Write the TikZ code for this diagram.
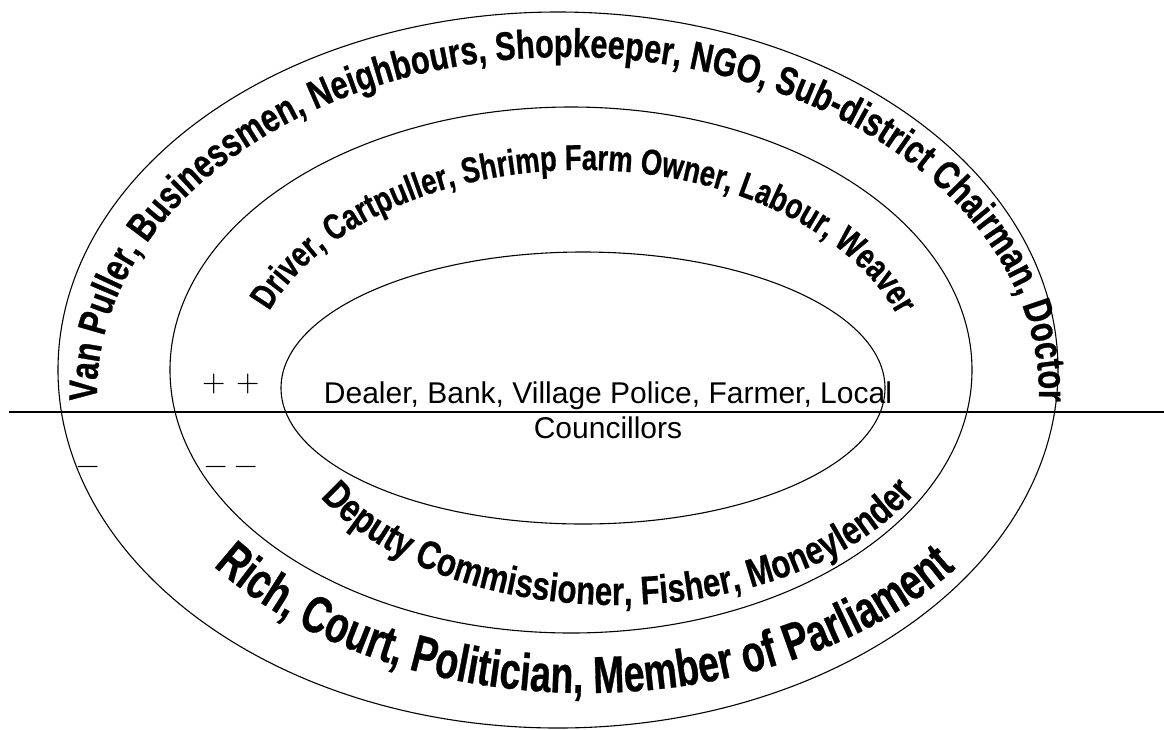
\documentclass[tikz,border=0pt]{standalone}
\usepackage{fontspec}
\setmainfont{Liberation Sans}
\usetikzlibrary{decorations.text}
\newfontfamily\wafA[FakeStretch=0.77,FakeBold=0.6]{Liberation Sans Bold}
\newfontfamily\wafB[FakeStretch=0.76,FakeBold=0.6]{Liberation Sans Bold}
\newfontfamily\wafC[FakeStretch=0.78,FakeBold=0.4]{Liberation Sans Bold}
\newfontfamily\wafD[FakeStretch=0.72,FakeBold=0.6]{Liberation Sans Bold}
\newfontfamily\signfont{Latin Modern Math}
\newcommand\txtA{\wafA\fontsize{40}{44}\selectfont}
\newcommand\txtB{\wafB\fontsize{36}{40}\selectfont}
\newcommand\txtC{\wafC\fontsize{40}{44}\selectfont}
\newcommand\txtD{\wafD\fontsize{52}{56}\selectfont}
\tikzset{
  ring/.style={draw=black, line width=1.1pt},
  divider/.style={draw=black, line width=1.1pt},
  arctext/.style={decorate, decoration={text along path, text={#1}, text align=fit to path}},
  signs/.style={inner sep=0pt, font=\signfont\fontsize{30}{30}\selectfont},
  core/.style={align=center, inner sep=0pt, font=\fontsize{30}{35}\selectfont}
}
\begin{document}
\begin{tikzpicture}[x=1pt,y=1pt]
\useasboundingbox (0,0) rectangle (1164,-729);
% ellipses
\draw[ring] (558,-370) ellipse [x radius=500, y radius=358];
\draw[ring] (571,-370) ellipse [x radius=401, y radius=263];
\draw[ring] (583,-388) ellipse [x radius=302, y radius=136];
% divider
\coordinate (dl) at (9,-412);
\coordinate (dr) at (1164,-412);
\draw[divider] (dl) -- (dr);
% curved texts
\path[arctext={|\txtA|Van Puller, Businessmen, Neighbours, Shopkeeper, NGO, Sub-district Chairman, Doctor}]
  (568,-395) ++(181:471 and 338) arc[start angle=181, end angle=-1, x radius=471, y radius=338];
\path[arctext={|\txtB|Driver, Cartpuller, Shrimp Farm Owner, Labour, Weaver}]
  (582,-390) ++(159:335 and 220) arc[start angle=159, end angle=21, x radius=335, y radius=220];
\path[arctext={|\txtC|Deputy Commissioner, Fisher, Moneylender}]
  (616,-392) ++(209.6:340 and 213) arc[start angle=209.6, end angle=330.4, x radius=340, y radius=213];
\path[arctext={|\txtD|Rich, Court, Politician, Member of Parliament}]
  (586,-375) ++(216.9:466 and 318) arc[start angle=216.9, end angle=322, x radius=466, y radius=318];
% centre text
\node[core, anchor=base] (core) at (608,-438) {Dealer, Bank, Village Police, Farmer, Local\\Councillors};
% signs
\node[signs] (pp) at (231,-384) {+\hspace{11pt}+};
\node[signs] (m1) at (88,-470) {−};
\node[signs] (mm) at (231,-470) {−\hspace{7pt}−};
\end{tikzpicture}
\end{document}
